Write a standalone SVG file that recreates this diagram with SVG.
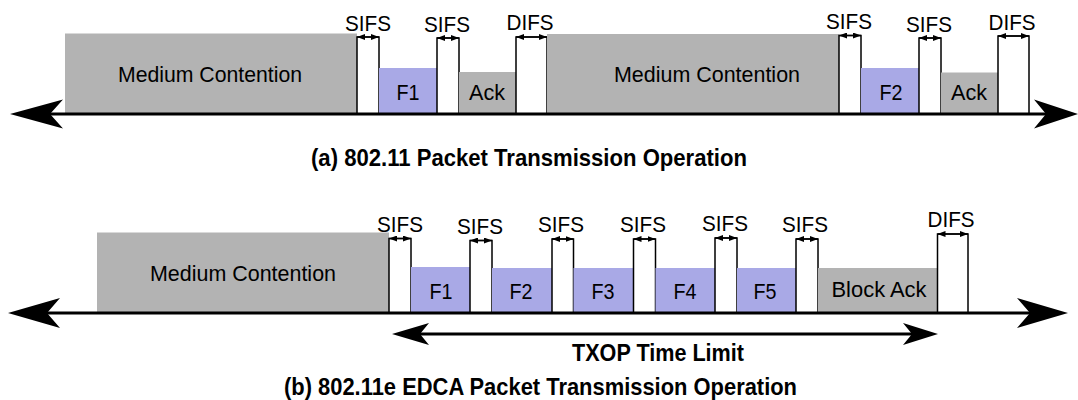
<svg xmlns="http://www.w3.org/2000/svg" width="1078" height="400" viewBox="0 0 1078 400">
  <defs>
    <style>
      .lbl { font-family: "Liberation Sans", Arial, sans-serif; font-size: 22.5px; fill: #000; text-anchor: middle; }
      .cap { font-family: "Liberation Sans", Arial, sans-serif; font-size: 24px; font-weight: bold; fill: #000; text-anchor: middle; }
      .busy { fill: #b3b3b3; }
      .frame { fill: #a9a9e6; }
      .gap { fill: #fff; stroke: #000; stroke-width: 1.5; }
      .axis { stroke: #000; stroke-width: 3; fill: none; }
      .head { fill: #000; stroke: none; }
      .span { stroke: #000; stroke-width: 1.4; fill: none; marker-start: url(#tick-l); marker-end: url(#tick-r); }
    </style>
    <!-- small arrowheads for the inter-frame space markers -->
    <marker id="tick-r" viewBox="0 0 8 6" refX="8" refY="3" markerWidth="8" markerHeight="6" markerUnits="userSpaceOnUse" orient="auto">
      <path d="M0,0 L8,3 L0,6 Z" fill="#000"/>
    </marker>
    <marker id="tick-l" viewBox="0 0 8 6" refX="0" refY="3" markerWidth="8" markerHeight="6" markerUnits="userSpaceOnUse" orient="auto">
      <path d="M8,0 L0,3 L8,6 Z" fill="#000"/>
    </marker>
  </defs>
  <rect width="1078" height="400" fill="#fff"/>

  <!-- ===== (a) 802.11 ===== -->
  <g id="a-contention-1"><rect class="busy" x="65" y="33.5" width="292" height="80.5"/><text class="lbl" x="210" y="82" textLength="184" lengthAdjust="spacingAndGlyphs">Medium Contention</text></g>
  <g id="a-sifs-1"><rect class="gap" x="357" y="37" width="22" height="77"/><text class="lbl" x="368" y="30.5" textLength="46" lengthAdjust="spacingAndGlyphs">SIFS</text></g>
  <g id="a-f1"><rect class="frame" x="379" y="68" width="58" height="46"/><text class="lbl" x="408" y="100" textLength="23" lengthAdjust="spacingAndGlyphs">F1</text></g>
  <g id="a-sifs-2"><rect class="gap" x="437" y="38" width="22" height="76"/><text class="lbl" x="447" y="31.5" textLength="46" lengthAdjust="spacingAndGlyphs">SIFS</text></g>
  <g id="a-ack-1"><rect class="busy" x="459" y="72" width="57" height="42"/><text class="lbl" x="487" y="100" textLength="36" lengthAdjust="spacingAndGlyphs">Ack</text></g>
  <g id="a-difs-1"><rect class="gap" x="516" y="37" width="31" height="77"/><text class="lbl" x="530" y="29.5" textLength="47" lengthAdjust="spacingAndGlyphs">DIFS</text></g>
  <g id="a-contention-2"><rect class="busy" x="547" y="34" width="292" height="80"/><text class="lbl" x="707" y="82" textLength="186" lengthAdjust="spacingAndGlyphs">Medium Contention</text></g>
  <g id="a-sifs-3"><rect class="gap" x="839" y="35.5" width="22" height="78.5"/><text class="lbl" x="849" y="29" textLength="46" lengthAdjust="spacingAndGlyphs">SIFS</text></g>
  <g id="a-f2"><rect class="frame" x="861" y="68" width="58" height="46"/><text class="lbl" x="891" y="100" textLength="23" lengthAdjust="spacingAndGlyphs">F2</text></g>
  <g id="a-sifs-4"><rect class="gap" x="919" y="38" width="22" height="76"/><text class="lbl" x="929" y="31.5" textLength="46" lengthAdjust="spacingAndGlyphs">SIFS</text></g>
  <g id="a-ack-2"><rect class="busy" x="941" y="72.5" width="57" height="41.5"/><text class="lbl" x="969" y="100" textLength="36" lengthAdjust="spacingAndGlyphs">Ack</text></g>
  <g id="a-difs-2"><rect class="gap" x="998" y="36" width="31" height="78"/><text class="lbl" x="1012" y="29.5" textLength="47" lengthAdjust="spacingAndGlyphs">DIFS</text></g>
  <text class="cap" x="529" y="166" textLength="436" lengthAdjust="spacingAndGlyphs">(a) 802.11 Packet Transmission Operation</text>

  <!-- ===== (b) 802.11e EDCA ===== -->
  <g id="b-contention"><rect class="busy" x="97" y="232.5" width="292" height="80.5"/><text class="lbl" x="243" y="281" textLength="186" lengthAdjust="spacingAndGlyphs">Medium Contention</text></g>
  <g id="b-sifs-1"><rect class="gap" x="389" y="238.5" width="22" height="74.5"/><text class="lbl" x="400" y="232" textLength="46" lengthAdjust="spacingAndGlyphs">SIFS</text></g>
  <g id="b-f1"><rect class="frame" x="411" y="267" width="59" height="46"/><text class="lbl" x="441" y="299" textLength="23" lengthAdjust="spacingAndGlyphs">F1</text></g>
  <g id="b-sifs-2"><rect class="gap" x="470" y="240.5" width="22" height="72.5"/><text class="lbl" x="480" y="233.5" textLength="46" lengthAdjust="spacingAndGlyphs">SIFS</text></g>
  <g id="b-f2"><rect class="frame" x="492" y="268" width="60" height="45"/><text class="lbl" x="521" y="299" textLength="23" lengthAdjust="spacingAndGlyphs">F2</text></g>
  <g id="b-sifs-3"><rect class="gap" x="552" y="239" width="21.5" height="74"/><text class="lbl" x="561" y="232" textLength="46" lengthAdjust="spacingAndGlyphs">SIFS</text></g>
  <g id="b-f3"><rect class="frame" x="573.5" y="268" width="60" height="45"/><text class="lbl" x="603" y="299" textLength="23" lengthAdjust="spacingAndGlyphs">F3</text></g>
  <g id="b-sifs-4"><rect class="gap" x="633.5" y="239" width="22" height="74"/><text class="lbl" x="643" y="232" textLength="46" lengthAdjust="spacingAndGlyphs">SIFS</text></g>
  <g id="b-f4"><rect class="frame" x="655.5" y="268" width="59.5" height="45"/><text class="lbl" x="685" y="299" textLength="23" lengthAdjust="spacingAndGlyphs">F4</text></g>
  <g id="b-sifs-5"><rect class="gap" x="715" y="238" width="22" height="75"/><text class="lbl" x="725" y="231" textLength="46" lengthAdjust="spacingAndGlyphs">SIFS</text></g>
  <g id="b-f5"><rect class="frame" x="737" y="268" width="59" height="45"/><text class="lbl" x="765" y="299" textLength="23" lengthAdjust="spacingAndGlyphs">F5</text></g>
  <g id="b-sifs-6"><rect class="gap" x="796" y="239" width="22" height="74"/><text class="lbl" x="805" y="232" textLength="46" lengthAdjust="spacingAndGlyphs">SIFS</text></g>
  <g id="b-block-ack"><rect class="busy" x="818" y="268" width="119.5" height="45"/><text class="lbl" x="879" y="297" textLength="95" lengthAdjust="spacingAndGlyphs">Block Ack</text></g>
  <g id="b-difs"><rect class="gap" x="937.5" y="234" width="30.5" height="79"/><text class="lbl" x="951" y="227" textLength="47" lengthAdjust="spacingAndGlyphs">DIFS</text></g>
  <g id="b-txop-label"><text class="cap" x="658" y="361" textLength="172" lengthAdjust="spacingAndGlyphs">TXOP Time Limit</text></g>
  <text class="cap" x="540.5" y="395" textLength="513" lengthAdjust="spacingAndGlyphs">(b) 802.11e EDCA Packet Transmission Operation</text>

  <!-- ===== connectors: time axes, spacing markers, TXOP span ===== -->
  <g id="connectors">
    <!-- (a) time axis -->
    <line class="axis" x1="50" y1="114" x2="1046" y2="114"/>
    <path class="head" d="M10,114 L63,99.5 L50,114 L63,128.5 Z"/>
    <path class="head" d="M1078,114 L1034,99.5 L1046,114 L1034,128.5 Z"/>
    <!-- (a) inter-frame spaces -->
    <line class="span" x1="357" y1="37" x2="379" y2="37"/>
    <line class="span" x1="437" y1="38" x2="459" y2="38"/>
    <line class="span" x1="516" y1="37" x2="547" y2="37"/>
    <line class="span" x1="839" y1="35.5" x2="861" y2="35.5"/>
    <line class="span" x1="919" y1="38" x2="941" y2="38"/>
    <line class="span" x1="998" y1="36" x2="1029" y2="36"/>

    <!-- (b) time axis -->
    <line class="axis" x1="47" y1="313" x2="1030" y2="313"/>
    <path class="head" d="M8,313 L60,298 L47,313 L60,328 Z"/>
    <path class="head" d="M1068,313 L1017,298 L1030,313 L1017,328 Z"/>
    <!-- (b) inter-frame spaces -->
    <line class="span" x1="389" y1="238.5" x2="411" y2="238.5"/>
    <line class="span" x1="470" y1="240.5" x2="492" y2="240.5"/>
    <line class="span" x1="552" y1="239" x2="573.5" y2="239"/>
    <line class="span" x1="633.5" y1="239" x2="655.5" y2="239"/>
    <line class="span" x1="715" y1="238" x2="737" y2="238"/>
    <line class="span" x1="796" y1="239" x2="818" y2="239"/>
    <line class="span" x1="937.5" y1="234" x2="968" y2="234"/>

    <!-- (b) TXOP limit span -->
    <line class="axis" x1="420" y1="334" x2="912" y2="334" stroke-width="2.6"/>
    <path class="head" d="M392,334 L429,323 L420,334 L429,345 Z"/>
    <path class="head" d="M938,334 L903,323 L912,334 L903,345 Z"/>
  </g>
</svg>
